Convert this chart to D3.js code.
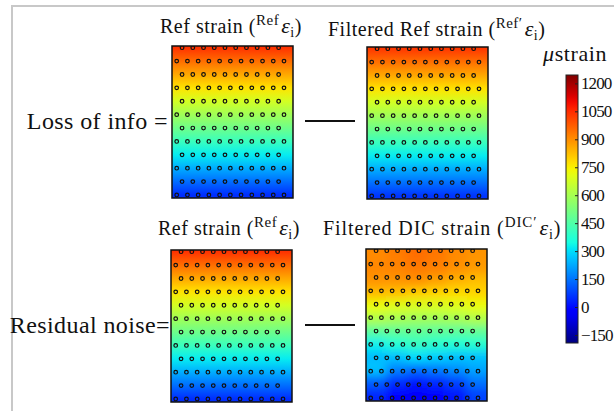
<!DOCTYPE html>
<html>
<head>
<meta charset="utf-8">
<script src="https://cdn.jsdelivr.net/npm/d3@7"></script>
<style>
body { margin: 0; background: #fff; }
text { font-family: "Liberation Serif", serif; fill: #111; }
</style>
</head>
<body>
<script>
var width = 614, height = 411;

// colour bar range and ticks (microstrain)
var colorDomain = [-193, 1245];
var barTicks = [-150, 0, 150, 300, 450, 600, 750, 900, 1050, 1200];

// strain of each dot row, top to bottom
var refRows     = [1040, 950, 860, 770, 680, 590, 500, 410, 320, 230, 140, 50];
var filtRefRows = [1030, 945, 860, 770, 680, 590, 500, 410, 320, 230, 145, 60];

// filtered DIC strain, 12 rows x 6 columns
var dicGrid = [
  [905, 925, 950, 935, 905, 890],
  [910, 915, 930, 920, 895, 880],
  [890, 890, 895, 870, 845, 825],
  [830, 820, 800, 790, 780, 790],
  [720, 700, 690, 690, 700, 720],
  [620, 600, 590, 590, 600, 620],
  [470, 480, 480, 470, 470, 480],
  [330, 370, 400, 380, 370, 380],
  [250, 260, 300, 280, 260, 260],
  [260, 170, 140, 160, 190, 220],
  [120,  50,  20,  40,  80, 150],
  [ 40, -20, -40, -20,  20,  80]
];

var rowLabels = ["Loss of info =", "Residual noise="];

// jet colour map
var jetR = [[0, 0], [0.35, 0], [0.66, 1], [0.89, 1], [1, 0.5]],
    jetG = [[0, 0], [0.125, 0], [0.375, 1], [0.64, 1], [0.91, 0], [1, 0]],
    jetB = [[0, 0.5], [0.11, 1], [0.34, 1], [0.65, 0], [1, 0]];
function chan(pts, t) {
  t = Math.max(0, Math.min(1, t));
  for (var i = 1; i < pts.length; i++) {
    if (t <= pts[i][0]) {
      var a = pts[i - 1], b = pts[i];
      return a[1] + (b[1] - a[1]) * (t - a[0]) / (b[0] - a[0]);
    }
  }
  return pts[pts.length - 1][1];
}
function jet(t) {
  return d3.rgb(255 * chan(jetR, t), 255 * chan(jetG, t), 255 * chan(jetB, t)) + "";
}
var color = d3.scaleSequential(jet).domain(colorDomain);

var svg = d3.select("body").append("svg")
    .attr("width", width)
    .attr("height", height);
var defs = svg.append("defs");

// grey frame
svg.append("path")
    .attr("d", "M12," + height + "V6H" + width)
    .attr("fill", "none")
    .attr("stroke", "#c8c8c8")
    .attr("stroke-width", 2);

var pw = 121, ph = 152;
var panels = [
  {id: "p0", x: 172, y: 46, rows: refRows},
  {id: "p1", x: 367, y: 47, rows: filtRefRows},
  {id: "p2", x: 171, y: 250, rows: refRows},
  {id: "p3", x: 366, y: 249, grid: dicGrid}
];

var dotX = d3.scaleLinear().domain([0, 10]).range([4.7, 112]);
var dotY = d3.scaleLinear().domain([0, 11]).range([1.7, 149]);
var rowIdx = d3.range(refRows.length);

panels.forEach(function(p) {
  var g = svg.append("g").attr("transform", "translate(" + p.x + "," + p.y + ")");
  defs.append("clipPath").attr("id", "clip-" + p.id)
    .append("rect").attr("width", pw).attr("height", ph);

  if (p.rows) {
    var grad = defs.append("linearGradient").attr("id", "grad-" + p.id)
        .attr("x1", 0).attr("y1", 0).attr("x2", 0).attr("y2", 1);
    grad.selectAll("stop").data(p.rows).enter().append("stop")
        .attr("offset", function(d, i) { return dotY(i) / ph; })
        .attr("stop-color", function(d) { return color(d); });
    g.append("rect").attr("width", pw).attr("height", ph)
        .attr("fill", "url(#grad-" + p.id + ")");
  } else {
    defs.append("filter").attr("id", "blur-" + p.id)
        .attr("x", -0.2).attr("y", -0.2).attr("width", 1.4).attr("height", 1.4)
      .append("feGaussianBlur").attr("stdDeviation", 5);
    var cx = d3.scaleBand().domain(d3.range(p.grid[0].length)).range([0, pw]);
    var cy = d3.scaleBand().domain(rowIdx).range([0, ph]);
    var cells = [];
    p.grid.forEach(function(row, r) {
      row.forEach(function(v, c) { cells.push({r: r, c: c, v: v}); });
    });
    var pad = 14;
    g.append("g").attr("clip-path", "url(#clip-" + p.id + ")")
      .append("g").attr("filter", "url(#blur-" + p.id + ")")
      .selectAll("rect").data(cells).enter().append("rect")
        .attr("x", function(d) { return cx(d.c) - (d.c === 0 ? pad : 0); })
        .attr("y", function(d) { return cy(d.r) - (d.r === 0 ? pad : 0); })
        .attr("width", function(d) { return cx.bandwidth() + 0.6 + (d.c === 0 || d.c === p.grid[0].length - 1 ? pad : 0); })
        .attr("height", function(d) { return cy.bandwidth() + 0.6 + (d.r === 0 || d.r === rowIdx.length - 1 ? pad : 0); })
        .attr("fill", function(d) { return color(d.v); });
  }

  // measurement points, staggered rows
  var dots = [];
  rowIdx.forEach(function(r) {
    var n = r % 2 === 0 ? 10 : 11;
    for (var c = 0; c < n; c++) dots.push({x: r % 2 === 0 ? c + 0.5 : c, y: r});
  });
  g.append("g").attr("clip-path", "url(#clip-" + p.id + ")")
    .selectAll("circle").data(dots).enter().append("circle")
      .attr("cx", function(d) { return dotX(d.x); })
      .attr("cy", function(d) { return dotY(d.y); })
      .attr("r", 1.8)
      .attr("fill", "none")
      .attr("stroke", "#111")
      .attr("stroke-width", 1.2);

  g.append("rect").attr("width", pw).attr("height", ph)
      .attr("fill", "none").attr("stroke", "#111").attr("stroke-width", 1.5);
});

// titles with superscripts
function title(x, y, pre, sup, ls) {
  var t = svg.append("text").attr("x", x).attr("y", y)
      .style("font-size", "20px").style("letter-spacing", (ls || 0.5) + "px");
  t.append("tspan").text(pre + " (");
  t.append("tspan").attr("dy", -8).style("font-size", "15px").text(sup);
  t.append("tspan").attr("dy", 8).attr("dx", 2).style("font-style", "italic")
      .style("font-size", "22px").text("ε");
  t.append("tspan").attr("dy", 4).style("font-size", "14px").text("i");
  t.append("tspan").attr("dy", -4).text(")");
}
title(160, 33, "Ref strain", "Ref");
title(328, 36, "Filtered Ref strain", "Ref′");
title(158, 235, "Ref strain", "Ref");
title(323, 235, "Filtered DIC strain", "DIC′", 0.9);

svg.append("text").attr("x", 168).attr("y", 129).attr("text-anchor", "end")
    .style("font-size", "24px").style("letter-spacing", "0.4px").text(rowLabels[0]);
svg.append("text").attr("x", 170).attr("y", 333).attr("text-anchor", "end")
    .style("font-size", "24px").style("letter-spacing", "0.4px").text(rowLabels[1]);

// minus signs
[121, 325].forEach(function(y) {
  svg.append("line").attr("x1", 305).attr("x2", 355).attr("y1", y).attr("y2", y)
      .attr("stroke", "#111").attr("stroke-width", 2);
});

// colour bar
var barX = 566, barW = 12;
var yBar = d3.scaleLinear().domain(colorDomain).range([343, 75]);
var bg = defs.append("linearGradient").attr("id", "bar-grad")
    .attr("x1", 0).attr("y1", 1).attr("x2", 0).attr("y2", 0);
bg.selectAll("stop").data(d3.range(0, 1.0001, 0.025)).enter().append("stop")
    .attr("offset", function(d) { return d; })
    .attr("stop-color", function(d) { return jet(d); });
svg.append("rect").attr("x", barX).attr("y", 75).attr("width", barW).attr("height", 268)
    .attr("fill", "url(#bar-grad)").attr("stroke", "#222").attr("stroke-width", 1);

var axis = svg.append("g")
    .attr("transform", "translate(" + (barX + barW) + ",0)")
    .call(d3.axisRight(yBar).tickValues(barTicks).tickFormat(d3.format("d"))
      .tickSize(-3).tickPadding(3));
axis.select(".domain").remove();
axis.selectAll("line").attr("stroke", "#222");
axis.selectAll("text").style("font-family", "Liberation Serif").style("font-size", "17px")
    .style("letter-spacing", "-0.9px").attr("fill", "#111");

svg.append("text").attr("x", 543).attr("y", 61).style("font-size", "22px")
    .style("letter-spacing", "0.6px")
  .call(function(t) {
    t.append("tspan").style("font-style", "italic").text("μ");
    t.append("tspan").text("strain");
  });
</script>
</body>
</html>
